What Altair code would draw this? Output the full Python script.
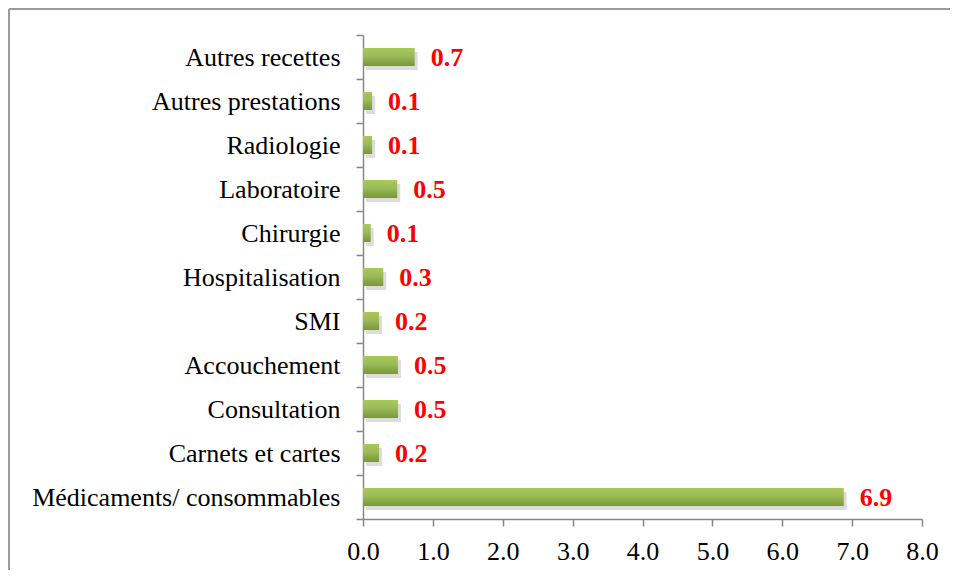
import altair as alt
import pandas as pd

categories = ["Autres recettes", "Autres prestations", "Radiologie", "Laboratoire",
              "Chirurgie", "Hospitalisation", "SMI", "Accouchement", "Consultation",
              "Carnets et cartes", "Médicaments/ consommables"]
values = [0.74, 0.13, 0.13, 0.49, 0.11, 0.29, 0.23, 0.50, 0.50, 0.23, 6.88]
x_ticks = [0, 1, 2, 3, 4, 5, 6, 7, 8]

df = pd.DataFrame({"cat": categories, "val": values})

FONT = "Liberation Serif"

y_enc = alt.Y("cat:N", sort=categories, title=None,
              scale=alt.Scale(paddingInner=0, paddingOuter=0),
              axis=alt.Axis(tickBand="extent", labelPadding=16, labelLimit=400))
x_enc = alt.X("val:Q", title=None, scale=alt.Scale(domain=[0, 8], nice=False),
              axis=alt.Axis(values=x_ticks, format=".1f", labelPadding=12,
                            labelFlush=False, labelOverlap=False))

base = alt.Chart(df)

shadow = base.mark_bar(size=18, color="#9a9a9a", opacity=0.35, xOffset=3, yOffset=4).encode(
    x=x_enc, y=y_enc)

bars = base.mark_bar(size=18, color=alt.Gradient(
    gradient="linear",
    stops=[alt.GradientStop(color="#a8ca58", offset=0),
           alt.GradientStop(color="#9bbb59", offset=0.45),
           alt.GradientStop(color="#789838", offset=1)],
    x1=0, x2=0, y1=0, y2=1)).encode(x=x_enc, y=y_enc)

labels = base.mark_text(align="left", baseline="middle", dx=16, dy=1, font=FONT,
                        fontSize=26, fontWeight="bold", color="#ff0000").encode(
    x=x_enc, y=y_enc, text=alt.Text("val:Q", format=".1f"))

frame_df = pd.DataFrame({"a": [0]})
frame_top = alt.Chart(frame_df).mark_rule(stroke="#9a9a9a", strokeWidth=2).encode(
    x=alt.value(-354), x2=alt.value(587), y=alt.value(-26))
frame_left = alt.Chart(frame_df).mark_rule(stroke="#9a9a9a", strokeWidth=2).encode(
    x=alt.value(-354), y=alt.value(-26), y2=alt.value(535))

chart = alt.layer(shadow, bars, labels, frame_top, frame_left).properties(
    width=559, height=484,
    autosize=alt.AutoSizeParams(type="none"),
    padding={"left": 355, "top": 27, "right": 28, "bottom": 51},
).configure_view(strokeWidth=0).configure_axis(
    domainColor="#868686", tickColor="#868686", domainWidth=1.5, tickWidth=1.5,
    tickSize=7, labelFont=FONT, labelFontSize=26, labelColor="#000000", grid=False,
)

chart.save("out.html", embed_options={"renderer": "svg", "actions": False})
